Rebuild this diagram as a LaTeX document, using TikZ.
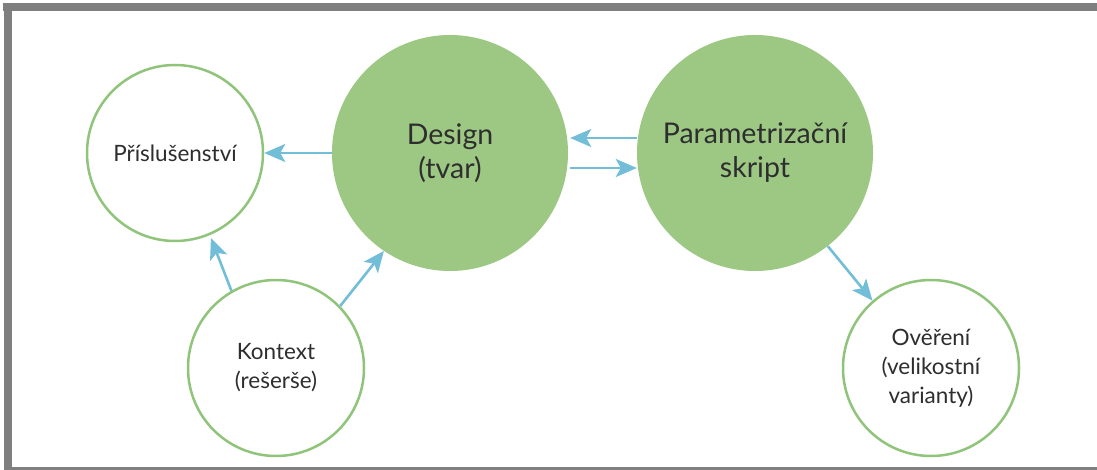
\documentclass[tikz,border=0pt]{standalone}
\usepackage{fontspec}
\setmainfont{Lato}
\usetikzlibrary{arrows.meta, positioning}
\definecolor{leafgreen}{HTML}{9DC883}
\definecolor{ringgreen}{HTML}{8FC47A}
\definecolor{skyblue}{HTML}{72BDD8}
\definecolor{framegray}{HTML}{7F7F7F}
\definecolor{inkgray}{HTML}{2E2E2E}
\tikzstyle{bigcircle} = [circle, minimum size=236pt, inner sep=0pt, fill=leafgreen, text=inkgray, align=center, font=\fontsize{28.5}{34}\selectfont]
\tikzstyle{smallcircle} = [circle, minimum size=176pt, inner sep=0pt, draw=ringgreen, line width=2.5pt, fill=white, text=inkgray, align=center, font=\fontsize{22.5}{29}\selectfont]
\tikzstyle{arrow} = [draw=skyblue, line width=2.6pt, -{Stealth[length=21pt, width=18pt, inset=5pt]}]

\begin{document}
\begin{tikzpicture}[x=1pt, y=-1pt, node distance=215pt]

\useasboundingbox (0,0) rectangle (1097,470);
% frame
\fill[framegray] (3,3) rectangle (1097,11);
\fill[framegray] (4,3) rectangle (12,470);
\fill[framegray] (4,467) rectangle (1097,470);

\node (acc) [smallcircle] at (175,153) {Příslušenství};
\node (design) [bigcircle, right of=acc, xshift=60pt] {Design\\(tvar)};
\node (param) [bigcircle, right of=design, xshift=90pt] {Parametrizační\\skript};
\node (ctx) [smallcircle, below of=acc, xshift=101pt] {Kontext\\(rešerše)};
\node (check) [smallcircle, below of=param, xshift=176pt] {Ověření\\(velikostní\\varianty)};

\draw [arrow] (design) -- (acc);
\draw [arrow] ([yshift=15pt]param.west) -- ([yshift=15pt, xshift=2pt]design.east);
\draw [arrow] ([yshift=-15pt, xshift=2pt]design.east) -- ([yshift=-15pt]param.west);
\draw [arrow, shorten >=3pt] (ctx.120) -- (acc.-67);
\draw [arrow] (ctx.44) -- (design.236);
\draw [arrow] (param.-52) -- (check.131);

\end{tikzpicture}
\end{document}
